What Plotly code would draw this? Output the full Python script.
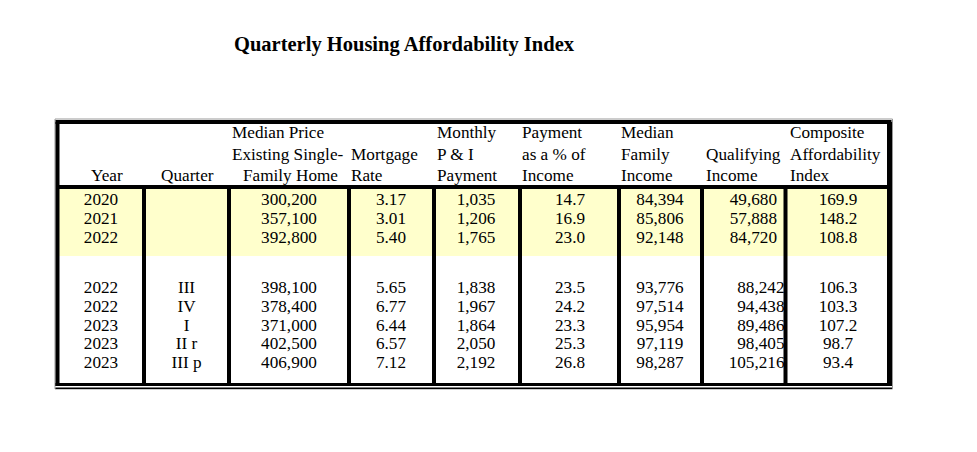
import plotly.graph_objects as go

# ---------------- data ----------------
title_text = "Quarterly Housing Affordability Index"
years = ["2020", "2021", "2022", "2022", "2022", "2023", "2023", "2023"]
quarters = ["", "", "", "III", "IV", "I", "II r", "III p"]
median_price = [300200, 357100, 392800, 398100, 378400, 371000, 402500, 406900]
mortgage_rate = [3.17, 3.01, 5.40, 5.65, 6.77, 6.44, 6.57, 7.12]
monthly_pi = [1035, 1206, 1765, 1838, 1967, 1864, 2050, 2192]
payment_pct = [14.7, 16.9, 23.0, 23.5, 24.2, 23.3, 25.3, 26.8]
median_income = [84394, 85806, 92148, 93776, 97514, 95954, 97119, 98287]
qualifying_income = [49680, 57888, 84720, 88242, 94438, 89486, 98405, 105216]
composite_index = [169.9, 148.2, 108.8, 106.3, 103.3, 107.2, 98.7, 93.4]

header_lines = [
    ["Year"],
    ["Quarter"],
    ["Median Price", "Existing Single-", "Family Home"],
    ["Mortgage", "Rate"],
    ["Monthly", "P & I", "Payment"],
    ["Payment", "as a % of", "Income"],
    ["Median", "Family", "Income"],
    ["Qualifying", "Income"],
    ["Composite", "Affordability", "Index"],
]

# ---------------- layout constants ----------------
W, H = 977, 452
PAGE_MARGIN = 8  # default body margin of the html page
FONT = "Liberation Serif, Times New Roman, serif"
FS = 17.2
n_annual = 3

left_b, right_b = 57.5, 889.5
top_b, head_b, bot_b = 122, 187, 384.5
seps = [144, 229, 349, 434, 520, 619, 702, 785.5]
yellow_bottom = 256

col_center = [101, 186.5, 289, 391, 476, 570, 660, None, 838]
qual_right = [777, 777, 777, 784.5, 784.5, 784.5, 784.5, 784.5]

def row_y(i):
    if i < n_annual:
        return 201 + i * 19
    return 289 + (i - n_annual) * 18.7

rows_y = [row_y(i) for i in range(len(years))]

fmt_int = lambda v: f"{v:,}"
columns = [
    years,
    quarters,
    [fmt_int(v) for v in median_price],
    [f"{v:.2f}" for v in mortgage_rate],
    [fmt_int(v) for v in monthly_pi],
    [f"{v:.1f}" for v in payment_pct],
    [fmt_int(v) for v in median_income],
    [fmt_int(v) for v in qualifying_income],
    [f"{v:.1f}" for v in composite_index],
]

fig = go.Figure()

for ci, col in enumerate(columns):
    if ci == 7:
        fig.add_trace(go.Scatter(
            x=qual_right, y=rows_y, text=col, mode="text",
            textposition="middle left",
            textfont=dict(family=FONT, size=FS, color="black"),
            hoverinfo="skip", showlegend=False))
    else:
        fig.add_trace(go.Scatter(
            x=[col_center[ci]] * len(col), y=rows_y, text=col, mode="text",
            textposition="middle center",
            textfont=dict(family=FONT, size=FS, color="black"),
            hoverinfo="skip", showlegend=False))

head_left = [None, None, [230, 230, 241], [349, 349], [435, 435, 435],
             [520, 520, 520], [619, 619, 619], [704, 704], [788, 788, 788]]
head_center = [107, 187]
line_y = [132.5, 154, 175]
annotations = []
for ci, lines in enumerate(header_lines):
    nl = len(lines)
    for li, txt in enumerate(lines):
        yy = line_y[3 - nl + li]
        if head_left[ci] is None:
            annotations.append(dict(x=head_center[ci], y=yy, xref="x", yref="y",
                                    text=txt, showarrow=False, xanchor="center",
                                    yanchor="middle",
                                    font=dict(family=FONT, size=FS, color="black")))
        else:
            annotations.append(dict(x=head_left[ci][li], y=yy, xref="x", yref="y",
                                    text=txt, showarrow=False, xanchor="left",
                                    yanchor="middle",
                                    font=dict(family=FONT, size=FS, color="black")))

annotations.append(dict(x=404, y=44, xref="x", yref="y", text="<b>" + title_text + "</b>",
                        showarrow=False, xanchor="center", yanchor="middle",
                        font=dict(family=FONT, size=20.5, color="black")))

shapes = []
shapes.append(dict(type="rect", xref="x", yref="y", x0=left_b, x1=right_b,
                   y0=head_b, y1=yellow_bottom, fillcolor="#FFFFCC",
                   line=dict(width=0), layer="below"))
shapes.append(dict(type="rect", xref="x", yref="y", x0=55, x1=892.5, y0=119, y1=389,
                   line=dict(color="#999999", width=1)))
shapes.append(dict(type="line", xref="x", yref="y", x0=left_b - 2, x1=right_b + 2,
                   y0=top_b, y1=top_b, line=dict(color="black", width=4)))
shapes.append(dict(type="line", xref="x", yref="y", x0=left_b, x1=left_b,
                   y0=top_b, y1=bot_b + 1.5, line=dict(color="black", width=4)))
shapes.append(dict(type="line", xref="x", yref="y", x0=right_b, x1=right_b,
                   y0=top_b, y1=bot_b + 1.5, line=dict(color="black", width=5)))
shapes.append(dict(type="line", xref="x", yref="y", x0=left_b, x1=right_b,
                   y0=head_b, y1=head_b, line=dict(color="black", width=4)))
shapes.append(dict(type="line", xref="x", yref="y", x0=left_b - 2, x1=right_b + 2.5,
                   y0=bot_b, y1=bot_b, line=dict(color="black", width=3)))
shapes.append(dict(type="line", xref="x", yref="y", x0=left_b - 2, x1=right_b + 2.5,
                   y0=388.3, y1=388.3, line=dict(color="black", width=1.5)))
for sx in seps:
    shapes.append(dict(type="line", xref="x", yref="y", x0=sx, x1=sx,
                       y0=head_b, y1=bot_b, line=dict(color="black", width=4)))

PW, PH = W - 2 * PAGE_MARGIN, H - 2 * PAGE_MARGIN
fig.update_layout(
    width=PW, height=PH,
    margin=dict(l=0, r=0, t=0, b=0),
    paper_bgcolor="white", plot_bgcolor="white",
    xaxis=dict(range=[PAGE_MARGIN, PAGE_MARGIN + PW], visible=False, fixedrange=True),
    yaxis=dict(range=[PAGE_MARGIN + PH, PAGE_MARGIN], visible=False, fixedrange=True),
    shapes=shapes, annotations=annotations,
    showlegend=False,
)

fig.write_html("out.html", config={"displayModeBar": False})
